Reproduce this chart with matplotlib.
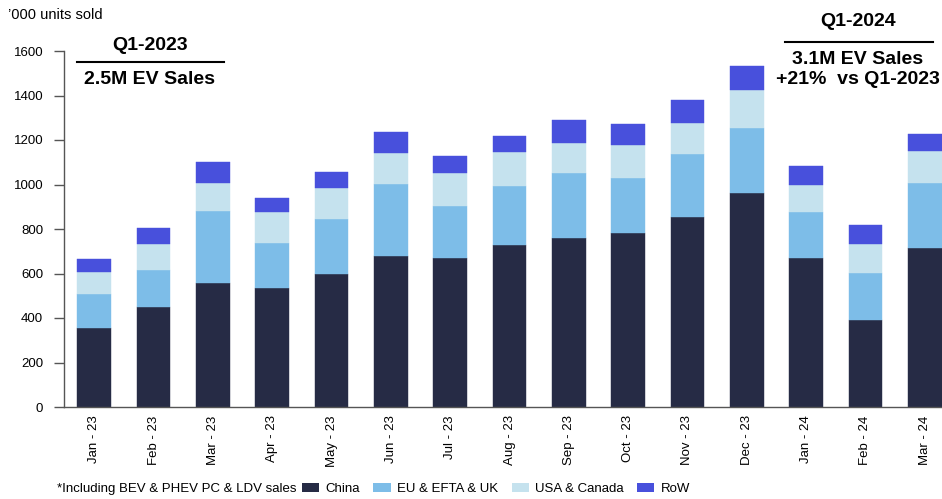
import matplotlib
matplotlib.use("Agg")
import matplotlib.pyplot as plt
from matplotlib.patches import Patch
from matplotlib.lines import Line2D
import numpy as np

plt.rcParams['font.family'] = ['Liberation Sans', 'DejaVu Sans']

months = ["Jan - 23", "Feb - 23", "Mar - 23", "Apr - 23", "May - 23", "Jun - 23",
          "Jul - 23", "Aug - 23", "Sep - 23", "Oct - 23", "Nov - 23", "Dec - 23",
          "Jan - 24", "Feb - 24", "Mar - 24"]
china = [355, 449, 559, 536, 597, 679, 668, 727, 761, 780, 855, 960, 668, 392, 713]
eu = [152, 168, 322, 203, 247, 323, 235, 266, 289, 251, 282, 296, 210, 210, 295]
usa = [100, 114, 126, 137, 139, 138, 147, 152, 138, 147, 138, 170, 120, 129, 143]
row = [58, 75, 94, 63, 73, 96, 77, 73, 101, 94, 103, 107, 85, 87, 76]

series_names = ["China", "EU & EFTA & UK", "USA & Canada", "RoW"]
colors = ["#262B45", "#7DBDE8", "#C5E2EE", "#4850DC"]
yticks = [0, 200, 400, 600, 800, 1000, 1200, 1400, 1600]

fig = plt.figure(figsize=(9.42, 4.99), dpi=100)
ax = fig.add_axes([64/942, 92/499, 878/942, 356/499])

x = np.arange(len(months))
bottom = np.zeros(len(months))
for vals, c, name in zip([china, eu, usa, row], colors, series_names):
    ax.bar(x, vals, width=0.565, bottom=bottom, color=c, label=name,
           edgecolor=c, linewidth=0.3)
    bottom += np.array(vals)

ax.set_xlim(-0.51, 14.29)
ax.set_ylim(0, 1600)
ax.set_yticks(yticks)
ax.set_yticklabels([str(v) for v in yticks], fontsize=9.5)
ax.set_xticks(x)
ax.set_xticklabels(months, rotation=90, fontsize=9.5)
ax.tick_params(axis='x', length=0, pad=6)
ax.tick_params(axis='y', length=7, width=1, color='#555555', pad=8, direction='out')
for s in ['top', 'right']:
    ax.spines[s].set_visible(False)
for s in ['left', 'bottom']:
    ax.spines[s].set_color('#555555')
    ax.spines[s].set_linewidth(1.0)

fig.text(8/942, 1 - 15/499, "\u2019000 units sold", fontsize=10.5, ha='left', va='center')

# Q1-2023 annotation
fig.text(150/942, 1 - 45/499, "Q1-2023", fontsize=14, fontweight='bold', ha='center', va='center')
fig.add_artist(Line2D([77/942, 224/942], [1 - 62/499, 1 - 62/499], color='black', lw=1.5))
fig.text(150/942, 1 - 80/499, "2.5M EV Sales", fontsize=14, fontweight='bold', ha='center', va='center')

# Q1-2024 annotation
fig.text(858/942, 1 - 22/499, "Q1-2024", fontsize=14, fontweight='bold', ha='center', va='center')
fig.add_artist(Line2D([785/942, 933/942], [1 - 42/499, 1 - 42/499], color='black', lw=1.5))
fig.text(858/942, 1 - 60/499, "3.1M EV Sales", fontsize=14, fontweight='bold', ha='center', va='center')
fig.text(858/942, 1 - 80/499, "+21%  vs Q1-2023", fontsize=14, fontweight='bold', ha='center', va='center')

# footnote + legend
fig.text(57/942, 1 - 489/499, "*Including BEV & PHEV PC & LDV sales", fontsize=9.5,
         ha='left', va='center')
handles = [Patch(facecolor=c, edgecolor='none') for c in colors]
fig.legend(handles, series_names, loc='center left', bbox_to_anchor=(302/942, 1 - 489/499),
           ncol=4, frameon=False, fontsize=9.5, handlelength=1.3, handleheight=0.75,
           handletextpad=0.5, columnspacing=1.0, borderaxespad=0, borderpad=0)

fig.savefig("out.png", dpi=100)
